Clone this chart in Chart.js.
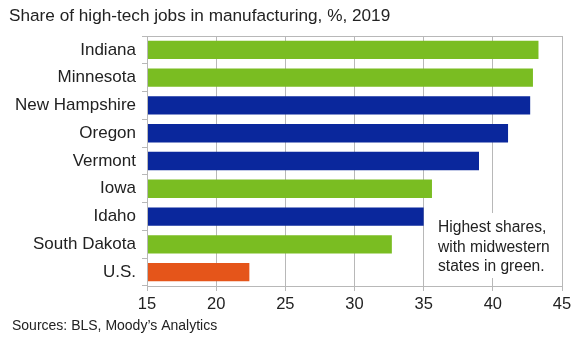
<!DOCTYPE html>
<html>
<head>
<meta charset="utf-8">
<script src="https://cdn.jsdelivr.net/npm/chart.js@4/dist/chart.umd.min.js"></script>
<style>
  html, body { margin: 0; padding: 0; background: #ffffff; }
  #wrap { width: 579px; height: 339px; position: relative; }
</style>
</head>
<body>
<div id="wrap"><canvas id="c" width="579" height="339"></canvas></div>
<script>
const titleText = 'Share of high-tech jobs in manufacturing, %, 2019';
const sourceText = 'Sources: BLS, Moody\u2019s Analytics';
const noteLines = ['Highest shares,', 'with midwestern', 'states in green.'];
const categories = ['Indiana', 'Minnesota', 'New Hampshire', 'Oregon', 'Vermont', 'Iowa', 'Idaho', 'South Dakota', 'U.S.'];
const values = [43.3, 42.9, 42.7, 41.1, 39.0, 35.6, 35.0, 32.7, 22.4];
const groups = ['midwest', 'midwest', 'other', 'other', 'other', 'midwest', 'other', 'midwest', 'us'];
const xTicks = [15, 20, 25, 30, 35, 40, 45];

const groupColors = { midwest: '#7abd22', other: '#0a279c', us: '#e5551a' };
const FONT = "'Liberation Sans', Arial, sans-serif";

const decor = {
  id: 'decor',
  beforeDraw(chart) {
    const ctx = chart.ctx;
    ctx.save();
    ctx.fillStyle = '#ffffff';
    ctx.fillRect(0, 0, chart.width, chart.height);
    ctx.restore();
  },
  afterDatasetsDraw(chart) {
    const ctx = chart.ctx;
    const a = chart.chartArea;
    ctx.save();
    // plot border
    ctx.strokeStyle = '#b8b8b8';
    ctx.lineWidth = 1;
    ctx.strokeRect(Math.round(a.left) + 0.5, Math.round(a.top) + 0.5, Math.round(a.right - a.left), Math.round(a.bottom - a.top));
    // note box
    const xs = chart.scales.x;
    const bx = xs.getPixelForValue(35.5);
    ctx.fillStyle = '#ffffff';
    ctx.fillRect(bx, 213, 548 - bx, 65);
    ctx.fillStyle = '#222222';
    ctx.font = '15.6px ' + FONT;
    ctx.textBaseline = 'middle';
    ctx.textAlign = 'left';
    noteLines.forEach((t, i) => ctx.fillText(t, 438, 228 + i * 19.3));
    // title
    ctx.font = '17.2px ' + FONT;
    ctx.fillText(titleText, 9, 16);
    // source
    ctx.font = '14px ' + FONT;
    ctx.fillText(sourceText, 12, 326);
    ctx.restore();
  }
};

new Chart(document.getElementById('c'), {
  type: 'bar',
  data: {
    labels: categories,
    datasets: [{
      data: values,
      backgroundColor: groups.map(g => groupColors[g]),
      borderWidth: 0,
      barPercentage: 0.66,
      categoryPercentage: 1.0
    }]
  },
  options: {
    indexAxis: 'y',
    responsive: false,
    animation: false,
    devicePixelRatio: 1,
    layout: { padding: { top: 36, right: 17, left: 0, bottom: 0 } },
    plugins: {
      legend: { display: false },
      tooltip: { enabled: false },
      title: { display: false }
    },
    scales: {
      x: {
        min: 15, max: 45,
        afterBuildTicks(s) { s.ticks = xTicks.map(v => ({ value: v })); },
        afterFit(s) { s.height = 53; },
        grid: { color: '#b8b8b8', tickLength: 5, drawTicks: true, tickColor: '#b8b8b8' },
        border: { color: '#b8b8b8' },
        ticks: { color: '#222222', font: { family: FONT, size: 16.5 }, padding: 4, maxRotation: 0 }
      },
      y: {
        afterFit(s) { s.width = 147; },
        grid: { drawOnChartArea: false, drawTicks: true, tickLength: 5, offset: true, color: '#b8b8b8' },
        border: { color: '#b8b8b8' },
        ticks: { color: '#222222', font: { family: FONT, size: 17 }, padding: 6 }
      }
    }
  },
  plugins: [decor]
});
</script>
</body>
</html>
